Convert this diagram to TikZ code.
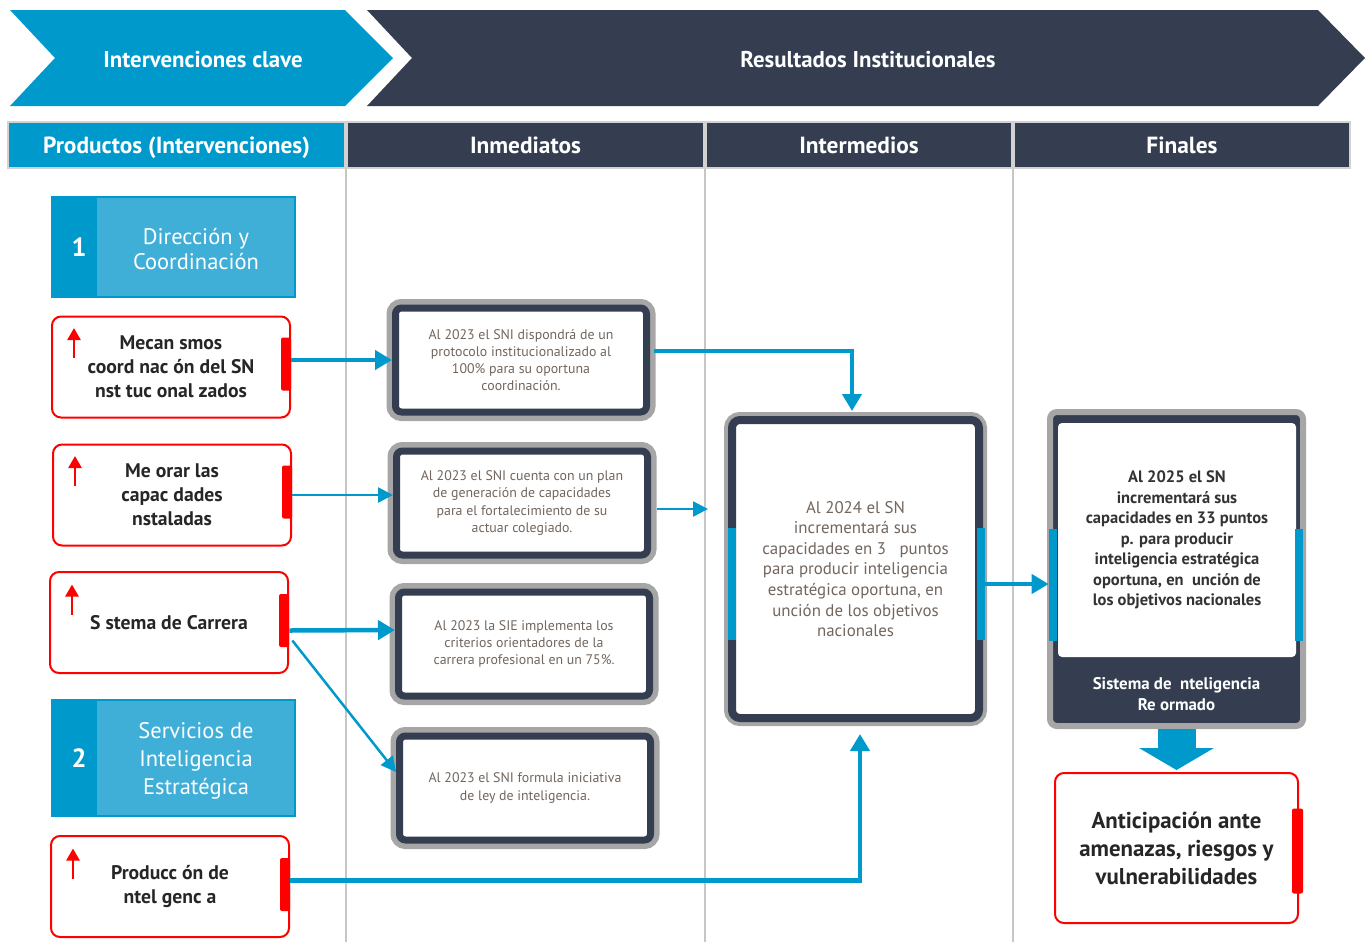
\documentclass[tikz,border=0pt]{standalone}
\usepackage{fontspec}
\setmainfont{PT Sans}
\usetikzlibrary{calc, arrows.meta, positioning}
\newlength{\pxu}
\setlength{\pxu}{0.02cm}
\definecolor{azul}{HTML}{0099CC}
\definecolor{azulc}{HTML}{40AFD8}
\definecolor{oscuro}{HTML}{343E50}
\definecolor{gris}{HTML}{A6A6A6}
\definecolor{texto}{HTML}{72665E}
\definecolor{rojo}{HTML}{FF0000}

\begin{document}
\begin{tikzpicture}[x=\pxu, y=-\pxu,
  hdr/.style={text=white, font=\bfseries\fontsize{13}{15}\selectfont},
  cell/.style={draw=gray!35, line width=2\pxu, minimum height=46\pxu, inner sep=0pt, text height=0.94em, text depth=0pt, text=white, font=\bfseries\fontsize{13.3}{15}\selectfont},
  colline/.style={draw=gray!45, line width=1.2\pxu},
  prodbox/.style={fill=azulc, draw=azul, line width=1.5\pxu, minimum width=243\pxu, inner sep=0pt},
  numbox/.style={fill=azul, minimum width=45\pxu, inner sep=0pt, text=white, font=\bfseries\fontsize{15}{16}\selectfont, anchor=west},
  prodtxt/.style={text=white, align=center, font=\fontsize{12.8}{14.7}\selectfont},
  rbox/.style={draw=rojo, line width=2\pxu, rounded corners=9\pxu, minimum width=238\pxu, minimum height=101\pxu, align=center, text=black!85, font=\bfseries\fontsize{11.2}{13.6}\selectfont},
  rbar/.style={fill=rojo, rounded corners=2\pxu, minimum width=10\pxu, minimum height=53\pxu, inner sep=0pt},
  uparr/.style={draw=rojo, line width=2.5\pxu, -{Triangle[length=0.24cm, width=0.26cm]}},
  ibox/.style={draw=oscuro, line width=7\pxu, rounded corners=6\pxu, fill=white, preaction={draw=gris, line width=18\pxu}, minimum width=251\pxu, minimum height=104\pxu, align=center, text=texto, font=\fontsize{7.9}{9.7}\selectfont},
  ebox/.style={draw=oscuro, line width=8\pxu, rounded corners=8\pxu, fill=white, preaction={draw=gris, line width=16\pxu}, minimum width=247\pxu, minimum height=298\pxu, align=center, text=texto, font=\fontsize{9.6}{11.7}\selectfont},
  fbox/.style={fill=oscuro, draw=gris, line width=6\pxu, rounded corners=7\pxu, minimum width=253\pxu, minimum height=314\pxu},
  ftxt/.style={fill=white, rounded corners=4\pxu, minimum width=238\pxu, minimum height=234\pxu, align=center, text=black!80, font=\bfseries\fontsize{9.4}{11.7}\selectfont},
  stxt/.style={text=white, align=center, font=\bfseries\fontsize{9.6}{11.9}\selectfont},
  bbar/.style={fill=azul, minimum width=8\pxu, minimum height=112\pxu, inner sep=0pt},
  conn/.style={draw=azul, line width=4.5\pxu, -{Triangle[length=0.34cm, width=0.38cm]}},
  slim/.style={draw=azul, line width=2.5\pxu, -{Triangle[length=0.3cm, width=0.3cm]}}
]
\useasboundingbox (0,0) rectangle (1367,941);

% cabecera
\fill[azul] (10,10) -- (345,10) -- (393,58) -- (345,106) -- (10,106) -- (55,58) -- cycle;
\node[hdr] (clave) at (203,60) {Intervenciones clave};
\fill[oscuro] (367,10) -- (1318,10) -- (1365,58) -- (1318,106) -- (367,106) -- (412,58) -- cycle;
\node[hdr] (result) at (868,60) {Resultados Institucionales};

\node[cell, fill=azul, minimum width=337\pxu] (prod) at (176.5,145) {Productos (Intervenciones)};
\node[cell, fill=oscuro, minimum width=357\pxu] (inm) at (525.5,145) {Inmediatos};
\node[cell, fill=oscuro, minimum width=306\pxu] (intm) at (859,145) {Intermedios};
\node[cell, fill=oscuro, minimum width=336\pxu] (fina) at (1182,145) {Finales};

\draw[colline] (inm.south west) -- ++(0,775);
\draw[colline] (intm.south west) -- ++(0,775);
\draw[colline] (fina.south west) -- ++(0,775);

% productos
\node[prodbox, minimum height=100\pxu] (p1) at (173.5,247) {};
\node[numbox, minimum height=100\pxu] (n1) at (p1.west) {\hspace*{10\pxu}1};
\node[prodtxt] (t1) at (196,249) {Dirección y\\Coordinación};

\node[prodbox, minimum height=116\pxu] (p2) at (173.5,758) {};
\node[numbox, minimum height=116\pxu] (n2) at (p2.west) {\hspace*{10\pxu}2};
\node[prodtxt, font=\fontsize{12.8}{15.9}\selectfont] (t2) at (196,761) {Servicios de\\Inteligencia\\Estratégica};

\node[rbox] (m1) at (171,367) {Mecan smos\\coord nac ón del SN\\nst tuc onal zados};
\node[rbar] (m1b) at ($(m1.east)+(-5,-3)$) {};
\draw[uparr] ($(m1.west)+(23,-9)$) -- ($(m1.west)+(23,-39)$);

\node[rbox] (m2) at (172,495) {Me orar las\\capac dades\\nstaladas};
\node[rbar] (m2b) at ($(m2.east)+(-5,-3)$) {};
\draw[uparr] ($(m2.west)+(23,-9)$) -- ($(m2.west)+(23,-39)$);

\node[rbox] (m3) at (169,622.5) {S stema de Carrera};
\node[rbar] (m3b) at ($(m3.east)+(-5,-2)$) {};
\draw[uparr] ($(m3.west)+(23,-8)$) -- ($(m3.west)+(23,-38)$);

\node[rbox] (m4) at (170,886.5) {Producc ón de\\ntel genc a};
\node[rbar] (m4b) at ($(m4.east)+(-5,-2)$) {};
\draw[uparr] ($(m4.west)+(23,-8)$) -- ($(m4.west)+(23,-38)$);

% inmediatos
\node[ibox] (A) at (521,360) {Al 2023 el SNI dispondrá de un\\protocolo institucionalizado al\\100\% para su oportuna\\coordinación.};
\node[ibox] (B) at (522,503) {Al 2023 el SNI cuenta con un plan\\de generación de capacidades\\para el fortalecimiento de su\\actuar colegiado.};
\node[ibox] (C) at (524,644) {Al 2023 la SIE implementa los\\criterios orientadores de la\\carrera profesional en un 75\%.};
\node[ibox] (D) at (525,788) {Al 2023 el SNI formula iniciativa\\de ley de inteligencia.};

% intermedios
\node[ebox] (E) at (855.5,569) {Al 2024 el SN\\incrementará sus\\capacidades en 3~~~puntos\\para producir inteligencia\\estratégica oportuna, en\\unción de los objetivos\\nacionales};
\node[bbar] (Eb1) at ($(E.west)+(4,15)$) {};
\node[bbar] (Eb2) at ($(E.east)+(-2,15)$) {};

% finales
\node[fbox] (F) at (1176.5,569) {};
\node[ftxt] (Ft) at (1177,540) {Al 2025 el SN\\incrementará sus\\capacidades en 33 puntos\\p. para producir\\inteligencia estratégica\\oportuna, en~~unción de\\los objetivos nacionales};
\node[stxt] (Fs) at (1176.5,694) {Sistema de~~nteligencia\\Re ormado};
\node[bbar] (Fb1) at ($(F.west)+(6,16)$) {};
\node[bbar] (Fb2) at ($(F.east)+(-7,16)$) {};

\node[rbox, minimum width=243\pxu, minimum height=150\pxu, font=\bfseries\fontsize{13}{15.9}\selectfont] (G) at (1176.5,848) {Anticipación ante\\amenazas, riesgos y\\vulnerabilidades};
\node[rbar, minimum width=11\pxu, minimum height=85\pxu] (Gb) at ($(G.east)+(-1.5,3)$) {};

% conectores
\draw[conn] (m1b.east |- A.west) -- (A.west);
\draw[slim] ($(m2b.east)+(0,3)$) -- ($(B.west)+(0,-8)$);
\draw[conn] ($(m3b.east)+(0,10)$) -- ($(C.west)+(0,-14)$);
\draw[slim] ($(m3b.east)+(3,20)$) -- ($(D.west)+(0,-16)$);
\draw[conn] ($(m4b.east)+(0,-4)$) -| ($(E.south)+(4.5,12)$);
\draw[conn] ($(A.east)+(4,-9)$) -| ($(E.north)+(-3.5,-5)$);
\coordinate (c6) at (708,509);
\draw[slim] ($(B.east)+(6,6)$) -- (c6);
\draw[conn] (Eb2.east) -- (Eb2.east -| Fb1.west);
\draw[azul, line width=38\pxu, -{Triangle[length=0.44cm, width=1.48cm]}] (F.south) -- ($(G.north)+(0,-2)$);
\end{tikzpicture}
\end{document}
